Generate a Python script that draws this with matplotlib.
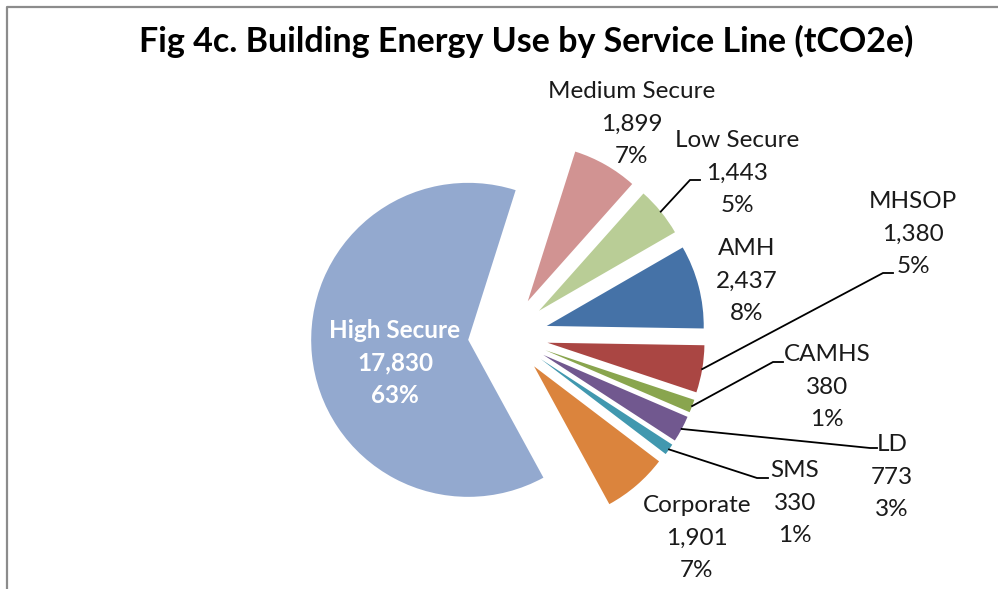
import numpy as np
import matplotlib
matplotlib.use("Agg")
import matplotlib.pyplot as plt

# データ
services = ["AMH", "MHSOP", "CAMHS", "LD", "SMS", "Corporate",
            "High Secure", "Medium Secure", "Low Secure"]
emissions = [2437, 1380, 380, 773, 330, 1901, 17830, 1899, 1443]
pct_labels = [8, 5, 1, 3, 1, 7, 63, 7, 5]  # 図中の表示どおり
colors = ["#4572A7", "#AA4643", "#89A54E", "#71588F", "#4198AF", "#DB843D",
          "#93A9CF", "#D19392", "#B9CD96"]
title = "Fig 4c. Building Energy Use by Service Line (tCO2e)"

# レイアウト（画像ピクセル座標, y は上から）
W, H = 998, 589
pie_center = (508, 336)
pie_radius = 157
explode_px = 40
line_gap = 32.5

# ラベルの中央行の位置
label_pos = {
    "AMH": (747, 281), "MHSOP": (913, 234), "CAMHS": (827, 387),
    "LD": (892, 477), "SMS": (795, 503), "Corporate": (697, 538),
    "High Secure": (395, 363), "Medium Secure": (632, 124),
    "Low Secure": (737, 173),
}
# 引き出し線: (折れ点, 終点)
leaders = {
    "Low Secure": ((690, 180), (700, 180)),
    "MHSOP": ((883, 273), (893, 273)),
    "CAMHS": ((773, 362), (783, 362)),
    "LD": ((870, 448), (877, 448)),
    "SMS": ((757, 478), (768, 478)),
}

plt.rcParams["font.family"] = ["Lato", "DejaVu Sans"]

fig = plt.figure(figsize=(W / 100, H / 100), dpi=100)
ax = fig.add_axes([0, 0, 1, 1])


def Y(y):
    return H - y


wedges, _ = ax.pie(emissions, colors=colors, startangle=30, counterclock=False,
                   radius=pie_radius, center=(pie_center[0], Y(pie_center[1])),
                   explode=[explode_px] * len(emissions),
                   wedgeprops=dict(linewidth=0))

ax.set_xlim(0, W)
ax.set_ylim(0, H)
ax.set_aspect("equal")
ax.axis("off")

for name, val, pct, w in zip(services, emissions, pct_labels, wedges):
    lines = [name, f"{val:,}", f"{pct}%"]
    x, y = label_pos[name]
    for k, s in enumerate(lines):
        yy = y + (k - 1) * line_gap
        if name == "High Secure":
            ax.text(x, Y(yy), s, ha="center", va="center", color="white",
                    fontsize=17.5, fontweight="bold")
        else:
            ax.text(x, Y(yy), s, ha="center", va="center", color="#1a1a1a",
                    fontsize=17.5)
    if name in leaders:
        th = np.deg2rad((w.theta1 + w.theta2) / 2)
        cx, cy = w.center
        sx = cx + w.r * np.cos(th)
        sy = cy + w.r * np.sin(th)
        (ex, ey), (fx, fy) = leaders[name]
        ax.plot([sx, ex, fx], [sy, Y(ey), Y(fy)], color="black", lw=1.3,
                solid_joinstyle="miter")

# タイトル
ax.text(526, Y(41), title, ha="center", va="center", fontsize=24.5,
        fontweight="bold", color="black")

# 枠線
ax.plot([7, 7, W], [0, Y(7), Y(7)], color="#8C8C8C", lw=1.6, clip_on=False)

fig.savefig("out.png", dpi=100)
